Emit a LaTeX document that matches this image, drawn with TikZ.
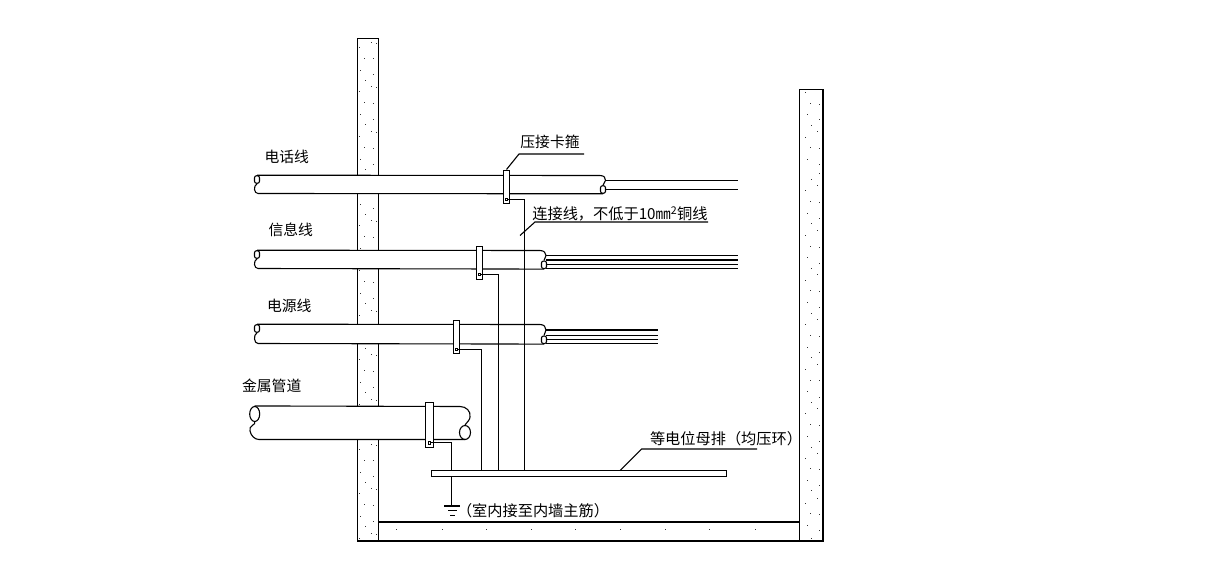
\documentclass[tikz,border=0pt]{standalone}
\usepackage{fontspec}
\newfontfamily\cjk{Noto Sans CJK SC}
\usetikzlibrary{shapes.geometric}
\tikzset{
  lbl/.style={inner sep=0pt, font=\cjk\fontsize{14.8}{15}\selectfont},
  lblwide/.style={inner sep=0pt, font=\cjk\fontsize{15.2}{15}\selectfont},
  clamp/.style={rectangle, draw, fill=white, inner sep=0pt, minimum width=6.4pt, minimum height=33.3pt},
  tap/.style={rectangle, draw, fill=white, line width=.7pt, inner sep=0pt, minimum size=2.5pt},
  endcap/.style={rectangle, rounded corners=2pt, draw, fill=white, inner sep=0pt, minimum width=5pt, minimum height=7.5pt},
  pipecap/.style={ellipse, draw, fill=white, inner sep=0pt, minimum width=10pt, minimum height=15pt},
  speck/.style={fill=black!80}
}
\begin{document}
\begin{tikzpicture}[x=1pt, y=-1pt, line width=1.1pt]
\useasboundingbox (0,0) rectangle (1225,583);
\begin{scope}
\clip (357.5,38) rectangle (378.5,541);
\foreach \i in {0,...,11}{
  \foreach \xx/\yy in {371.3/42.3,376.7/43.3,359.3/47.3,364.3/58.3,373.3/59,360.3/70.3,373.3/75,365.3/80.3}{
    \fill[speck] (\xx-.5,\yy+\i*44.64-.5) rectangle +(1,1);
  }
}
\end{scope}
\foreach \xx/\yy in {805.3/92.3,810.3/103.3,819.3/104.3,807.3/114.3,819.3/120,811.3/125.3,817.3/131.3,
  805.3/137.3,810.3/147.3,819.3/148.3,807.3/159.3,819.3/164.3,819.3/173.3,811.3/179.3,817.3/185.3,
  805.3/190.3,810.3/201.3,819.3/202.3,807.3/213.3,819.3/218.3,811.3/223.3,817.3/230.3,
  805.3/235.3,810.3/246.3,819.3/247.3,807.3/257.3,819.3/263.3,811.3/268.3,817.3/274.3,
  805.3/280.3,810.3/290.3,819.3/291.3,807.3/302.3,819.3/307.3,811.3/313.3,817.3/319.3,
  805.3/324.3,810.3/335.3,819.3/336.3,807.3/347.3,819.3/352.3,811.3/357.3,817.3/364.3,
  805.3/369.3,810.3/380.3,819.3/380.3,807.3/391.3,819.3/397.3,811.3/402.3,817.3/408.3,
  805.3/413.3,810.3/424.3,819.3/425.3,807.3/436.3,819.3/441.3,811.3/447.3,817.3/453.3,
  805.3/458.3,810.3/468.3,819.3/469.3,807.3/480.3,819.3/485.3,811.3/490.3,817.3/498.3,
  805.3/503.3,810.3/513.3,819.3/514.3,807.3/525.3,819.3/530.3,811.3/538.3,
  396.7/529,442.7/529,486/529,531.7/529,575/529,620/529,665.7/529,709/529,755/529}{
  \fill[speck] (\xx-.5,\yy-.5) rectangle +(1,1);
}
\draw (357.5,38.5) rectangle (378.5,541);
\draw (799.5,89.5) rectangle (823,541);
\draw (378.5,522) -- (799.5,522);
\draw (378.5,541) -- (799.5,541);
\fill[white] (257,175.5) rectangle (603,193.5);
\fill[white] (257,250.5) rectangle (544,268.5);
\fill[white] (257,324.5) rectangle (544,343.5);
\fill[white] (255,406.5) rectangle (465,439.5);
\node[endcap] (phoneL) at (257,179.5){};
\node[endcap] (infoL) at (257,254.5){};
\node[endcap] (powerL) at (257,328.5){};
\node[pipecap] (pipeL) at (254.7,414){};
\node[endcap] (phoneR) at (603,189.5){};
\node[endcap] (infoR) at (544,264.8){};
\node[endcap] (powerR) at (544,339.8){};
\node[pipecap, minimum width=11pt, minimum height=14pt] (pipeR) at (465,432.5){};
\coordinate (phoneTop) at (600,175.5);
\coordinate (infoTop) at (540,250.5);
\coordinate (powerTop) at (540,324.5);
\coordinate (pipeTop) at (460,406.5);
\coordinate (phoneLow) at (258,193.5);
\coordinate (infoLow) at (258,268.5);
\coordinate (powerLow) at (258,343.5);
\coordinate (pipeLow) at (259,439.5);
\coordinate (pipeLowR) at (465,439.5);
\coordinate (phoneKink) at (605.5,180.5);
\coordinate (infoKink) at (546,255.5);
\coordinate (powerKink) at (546,330);
\coordinate (pipeKink) at (470,417);
\draw (phoneL.north) -- (phoneTop) .. controls (604,175.5) and (606,178) .. (phoneKink) -- (phoneR.north);
\draw (infoL.north) -- (infoTop) .. controls (544,250.5) and (546,253) .. (infoKink) -- (infoR.north);
\draw (powerL.north) -- (powerTop) .. controls (544,324.5) and (546,327) .. (powerKink) -- (powerR.north);
\draw (pipeL.north) -- (pipeTop) .. controls (466,406.5) and (471,411) .. (pipeKink) .. controls (470,420) and (467,422) .. (pipeR.north);
\draw (phoneL.south) .. controls (253,186) and (254,193.5) .. (phoneLow) -- (phoneR.south);
\draw (infoL.south) .. controls (253,261) and (254,268.5) .. (infoLow) -- (infoR.south);
\draw (powerL.south) .. controls (253,335) and (254,343.5) .. (powerLow) -- (powerR.south);
\draw (pipeL.south) .. controls (257,424) and (248,426) .. (250,431) .. controls (251,436) and (255,439.5) .. (pipeLow) -- (pipeLowR);
\foreach \k/\yy in {a/180.5,b/189.3}{
  \coordinate (phoneA\k) at (605.5,\yy);
  \coordinate (phoneB\k) at (738,\yy);
  \draw (phoneA\k) -- (phoneB\k);
}
\foreach \k/\yy in {a/255.5,b/260,c/264.3,d/268.3}{
  \coordinate (infoA\k) at (546,\yy);
  \coordinate (infoB\k) at (738,\yy);
  \draw (infoA\k) -- (infoB\k);
}
\foreach \k/\yy in {a/330,b/335.3,c/339.3,d/343.3}{
  \coordinate (powerA\k) at (546,\yy);
  \coordinate (powerB\k) at (658,\yy);
  \draw (powerA\k) -- (powerB\k);
}
\node[draw, fill=white, inner sep=0pt, minimum width=295.4pt, minimum height=5.6pt] (bar) at (579,473.5){};
\coordinate (drop1) at (524.7,470.7);
\coordinate (drop2) at (498.7,470.7);
\coordinate (drop3) at (481.7,470.7);
\coordinate (drop4) at (451.3,470.7);
\node[clamp] (clamp1) at (506.5,186.7){};
\node[clamp] (clamp2) at (479.5,263){};
\node[clamp] (clamp3) at (456.5,336.8){};
\node[clamp, minimum width=8.4pt, minimum height=45pt] (clamp4) at (429.5,424.8){};
\node[tap] (tap1) at (506.5,199.5){};
\node[tap] (tap2) at (479.5,274.5){};
\node[tap] (tap3) at (456.5,349.5){};
\node[tap] (tap4) at (429.5,442.8){};
\draw (tap1) -| (drop1);
\draw (tap2) -| (drop2);
\draw (tap3) -| (drop3);
\draw (tap4) -| (drop4);
\coordinate (barLow) at (451.3,476.3);
\coordinate (earth) at (451.3,506);
\coordinate (earthL) at (444,506);
\coordinate (earthR) at (460,506);
\coordinate (earthMidL) at (448.3,510.7);
\coordinate (earthMidR) at (456.7,510.7);
\coordinate (earthLowL) at (450,515.7);
\coordinate (earthLowR) at (455,515.7);
\draw (barLow) -- (earth);
\draw (earthL) -- (earthR);
\draw (earthMidL) -- (earthMidR);
\draw (earthLowL) -- (earthLowR);
\node[lbl] (phoneTxt) at (286.7,157){电话线};
\node[lbl] (infoTxt) at (290.7,229.5){信息线};
\node[lbl] (powerTxt) at (289.3,305.7){电源线};
\node[lbl] (pipeTxt) at (271.7,386){金属管道};
\node[lbl] (clampTxt) at (550,142){压接卡箍};
\node[lblwide] (linkTxt) at (620,214){连接线，不低于10㎜\textsuperscript{2}铜线};
\node[lblwide] (barTxt) at (726,438.3){等电位母排（均压环）};
\node[lblwide] (earthTxt) at (533,511){（室内接至内墙主筋）};
\coordinate (clampBend) at (519,154);
\coordinate (clampEnd) at (584,154);
\coordinate (linkFoot) at (520,235.5);
\coordinate (linkBend) at (535,222);
\coordinate (linkEnd) at (708,222);
\coordinate (barFoot) at (620,470.7);
\coordinate (barBend) at (641.7,449);
\coordinate (barEnd) at (757,449);
\draw (clamp1.north) -- (clampBend) -- (clampEnd);
\draw (linkFoot) -- (linkBend) -- (linkEnd);
\draw (barFoot) -- (barBend) -- (barEnd);
\end{tikzpicture}
\end{document}
